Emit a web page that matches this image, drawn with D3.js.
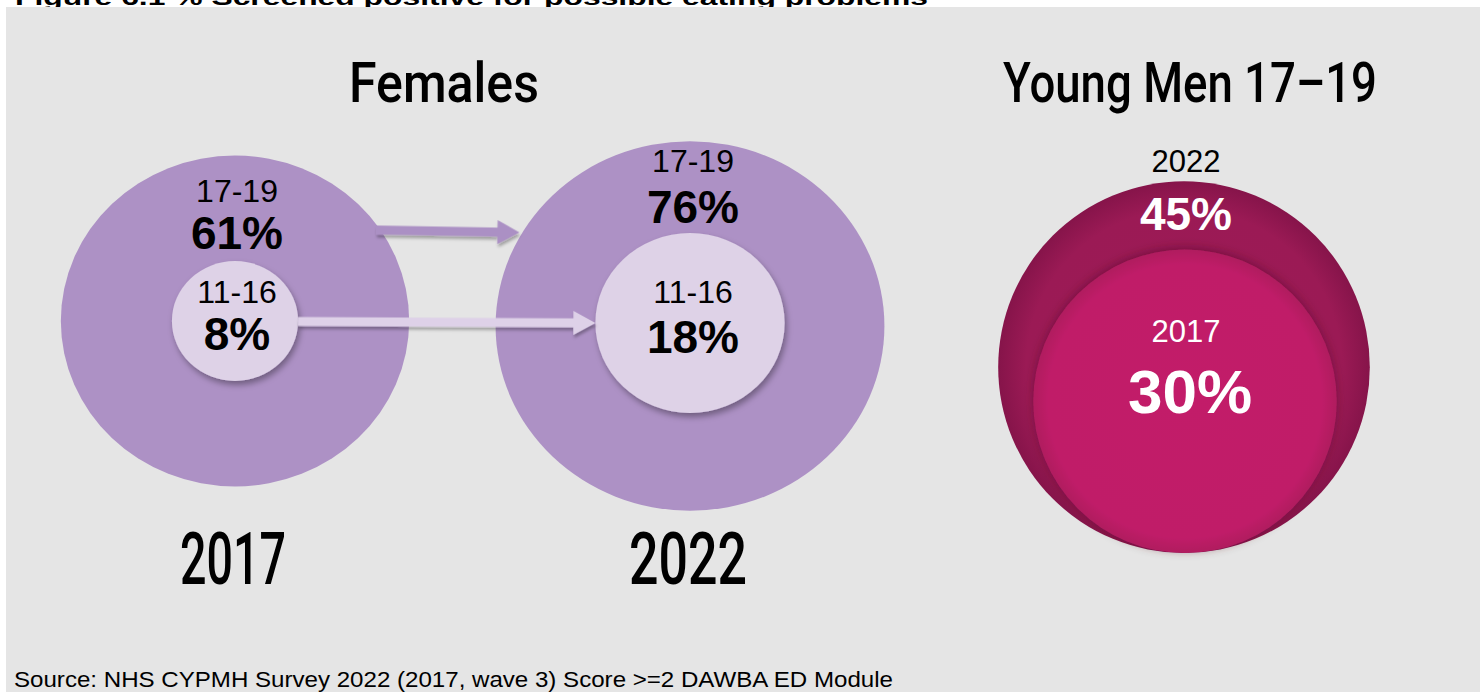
<!DOCTYPE html>
<html><head><meta charset="utf-8">
<script src="https://cdn.jsdelivr.net/npm/d3@7"></script>
<style>html,body{margin:0;padding:0;background:#fff;}svg{display:block;}</style>
</head><body>
<script>
// ---- data ----
const figureTitle = "Figure 6.1 % Screened positive for possible eating problems";
const sourceNote = "Source: NHS CYPMH Survey 2022 (2017, wave 3) Score >=2 DAWBA ED Module";
const panelTitles = ["Females", "Young Men 17-19"];
const femaleYears = ["2017", "2022"];
const femaleAgeGroups = ["17-19", "11-16"];
const female1719 = [61, 76];
const female1116 = [8, 18];
const menYears = ["2022", "2017"];
const men1719 = [45, 30];

const W = 1480, H = 692;
const svg = d3.select("body").append("svg").attr("width", W).attr("height", H);
const defs = svg.append("defs");

const shadow = defs.append("filter").attr("id","sh").attr("x","-30%").attr("y","-30%").attr("width","160%").attr("height","160%");
shadow.append("feDropShadow").attr("dx",2).attr("dy",4).attr("stdDeviation",3).attr("flood-color","#000").attr("flood-opacity",0.35);
const ashadow = defs.append("filter").attr("id","ash").attr("x","-10%").attr("y","-50%").attr("width","120%").attr("height","200%");
ashadow.append("feDropShadow").attr("dx",1).attr("dy",3).attr("stdDeviation",1.5).attr("flood-color","#000").attr("flood-opacity",0.3);
const mshadow = defs.append("filter").attr("id","msh").attr("x","-30%").attr("y","-30%").attr("width","160%").attr("height","160%");
mshadow.append("feDropShadow").attr("dx",0).attr("dy",-2).attr("stdDeviation",5).attr("flood-color","#4a0020").attr("flood-opacity",0.45);

const gOuter = defs.append("radialGradient").attr("id","gOuter");
gOuter.append("stop").attr("offset","0%").attr("stop-color","#9e1a57");
gOuter.append("stop").attr("offset","85%").attr("stop-color","#9b1a55");
gOuter.append("stop").attr("offset","100%").attr("stop-color","#86144a");
const gInner = defs.append("radialGradient").attr("id","gInner");
gInner.append("stop").attr("offset","0%").attr("stop-color","#c21f69");
gInner.append("stop").attr("offset","90%").attr("stop-color","#c01f68");
gInner.append("stop").attr("offset","100%").attr("stop-color","#b01c5f");

// title (cut off at top, behind panel, as in the reference)
svg.append("text").attr("x",15).attr("y",5).attr("font-family","Liberation Sans, Arial, sans-serif")
  .attr("font-weight","bold").attr("font-size",22).attr("textLength",913).attr("lengthAdjust","spacingAndGlyphs")
  .attr("fill","#000").text(figureTitle);

svg.append("rect").attr("x",6).attr("y",7).attr("width",W-6).attr("height",H-7).attr("fill","#e5e5e5");

// scales
const rF = d3.scaleSqrt().domain([0,100]).range([0,223]);
const rM = d3.scaleSqrt().domain([0,100]).range([0,277]);
const fx = d3.scalePoint().domain(femaleYears).range([235, 690]);
const ryRatio = 0.95;
const femaleCY = [321, 326];
const innerCY = [321, 323];

// female outer ellipses
svg.selectAll("ellipse.fo").data(female1719).join("ellipse").attr("class","fo")
  .attr("cx",(d,i)=>fx(femaleYears[i])).attr("cy",(d,i)=>femaleCY[i])
  .attr("rx",d=>rF(d)).attr("ry",d=>rF(d)*ryRatio).attr("fill","#ad91c5");

// arrows
function arrow(x0,y0,x1,y1,fill){
  const hl=22, hw=12, sw=4.5;
  const p = d3.path();
  const ang = Math.atan2(y1-y0,x1-x0);
  const L = Math.hypot(x1-x0,y1-y0);
  p.moveTo(0,-sw); p.lineTo(L-hl,-sw); p.lineTo(L-hl,-hw); p.lineTo(L,0);
  p.lineTo(L-hl,hw); p.lineTo(L-hl,sw); p.lineTo(0,sw); p.closePath();
  svg.append("path").attr("d",p.toString())
    .attr("transform",`translate(${x0},${y0}) rotate(${ang*180/Math.PI})`)
    .attr("fill",fill).attr("filter","url(#ash)");
}
arrow(fx("2017")+rF(female1719[0])*0.81, 230, fx("2022")-rF(female1719[1])*0.877, 232.5, "#ab90c4");

// female inner ellipses
svg.selectAll("ellipse.fi").data(female1116).join("ellipse").attr("class","fi")
  .attr("cx",(d,i)=>fx(femaleYears[i])).attr("cy",(d,i)=>innerCY[i])
  .attr("rx",d=>rF(d)).attr("ry",d=>rF(d)*ryRatio).attr("fill","#ded2e7").attr("filter","url(#sh)");

arrow(fx("2017")+rF(female1116[0]), 321.5, fx("2022")-rF(female1116[1]), 323, "#ded1e8");

// female labels
const lab = "Liberation Sans, Arial, sans-serif";
const labelX = [237, 693];
const ageBase = [[202, 303],[172, 303]];
const pctBase = [[249, 350],[223, 353]];
femaleYears.forEach((y,i)=>{
  [female1719[i], female1116[i]].forEach((v,j)=>{
    svg.append("text").attr("x",labelX[i]).attr("y",ageBase[i][j]).attr("text-anchor","middle")
      .attr("font-family",lab).attr("font-size",32).attr("fill","#000").text(femaleAgeGroups[j]);
    svg.append("text").attr("x",labelX[i]).attr("y",pctBase[i][j]).attr("text-anchor","middle")
      .attr("font-family",lab).attr("font-weight","bold").attr("font-size",46).attr("fill","#000").text(v+"%");
  });
});

// big titles
const tf = "Roboto, sans-serif";
svg.append("text").attr("x",444).attr("y",102).attr("text-anchor","middle").attr("font-family",tf)
  .attr("font-weight",500).attr("font-size",56).attr("textLength",190).attr("lengthAdjust","spacingAndGlyphs")
  .attr("fill","#000").text(panelTitles[0]);
svg.append("text").attr("x",1190).attr("y",102).attr("text-anchor","middle").attr("font-family",tf)
  .attr("font-weight",500).attr("font-size",56).attr("textLength",374).attr("lengthAdjust","spacingAndGlyphs")
  .attr("fill","#000").text(panelTitles[1].replace("-","\u2013"));

// year labels under female ellipses
const yearLen = [106, 118];
femaleYears.forEach((y,i)=>{
  svg.append("text").attr("x",[233,688][i]).attr("y",584).attr("text-anchor","middle").attr("font-family",tf)
    .attr("font-weight",500).attr("font-size",72).attr("textLength",yearLen[i]).attr("lengthAdjust","spacingAndGlyphs")
    .attr("fill","#000").text(y);
});

// men circles
const menCX = 1184, menBottom = 553;
svg.append("circle").attr("cx",menCX).attr("cy",menBottom-rM(men1719[0])).attr("r",rM(men1719[0])).attr("fill","url(#gOuter)");
svg.append("circle").attr("cx",menCX+1).attr("cy",menBottom-rM(men1719[1])).attr("r",rM(men1719[1]))
  .attr("fill","url(#gInner)").attr("filter","url(#msh)");

svg.append("text").attr("x",1186).attr("y",172).attr("text-anchor","middle").attr("font-family",lab)
  .attr("font-size",31).attr("fill","#000").text(menYears[0]);
svg.append("text").attr("x",1186).attr("y",230).attr("text-anchor","middle").attr("font-family",lab)
  .attr("font-weight","bold").attr("font-size",46).attr("fill","#fff").text(men1719[0]+"%");
svg.append("text").attr("x",1186).attr("y",342).attr("text-anchor","middle").attr("font-family",lab)
  .attr("font-size",31).attr("fill","#fff").text(menYears[1]);
svg.append("text").attr("x",1190).attr("y",413).attr("text-anchor","middle").attr("font-family",lab)
  .attr("font-weight","bold").attr("font-size",62).attr("fill","#fff").text(men1719[1]+"%");

// source
svg.append("text").attr("x",14).attr("y",687).attr("font-family",lab).attr("font-size",22)
  .attr("textLength",879).attr("lengthAdjust","spacingAndGlyphs").attr("fill","#000").text(sourceNote);
</script>
</body></html>
